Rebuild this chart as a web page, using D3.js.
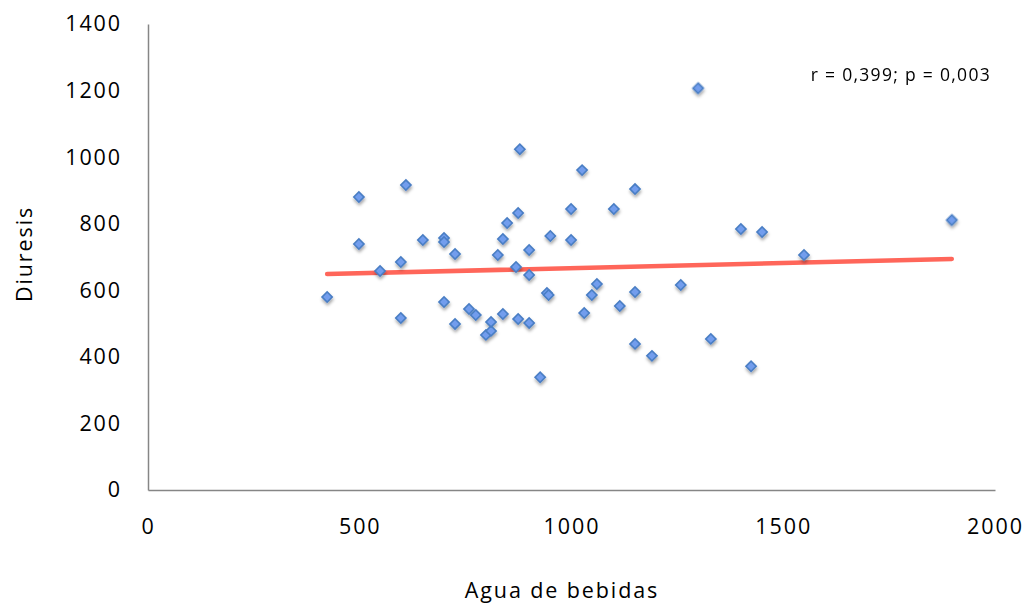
<!DOCTYPE html>
<html>
<head>
<meta charset="utf-8">
<script src="https://cdn.jsdelivr.net/npm/d3@7"></script>
<style>
  html, body { margin: 0; padding: 0; background: #fff; }
  svg { display: block; font-family: "Open Sans", "Noto Sans", sans-serif; }
</style>
</head>
<body>
<svg id="chart" width="1029" height="605"></svg>
<script>
// Water intake from drinks (x) vs. urine output (y)
const aguaBebidas = [
  423, 498, 498, 548, 597, 597, 609, 649, 699, 699,
  699, 725, 725, 758, 774, 798, 810, 810, 826, 838,
  838, 848, 874, 869, 874, 878, 900, 900, 900, 926,
  942, 946, 950, 999, 999, 1025, 1030, 1048, 1060, 1100,
  1114, 1150, 1150, 1150, 1190, 1258, 1329, 1400, 1450, 1424,
  1299, 1549, 1898
];
const diuresis = [
  580, 880, 739, 658, 685, 517, 916, 751, 757, 745,
  565, 709, 499, 544, 526, 466, 478, 505, 706, 754,
  529, 802, 832, 670, 514, 1024, 646, 721, 502, 339,
  592, 586, 763, 751, 844, 961, 532, 586, 619, 844,
  553, 904, 595, 439, 403, 616, 454, 784, 775, 372,
  1207, 706, 811
];

// Linear trend line: y = intercept + slope * x
const trendIntercept = 636;
const trendSlope = 0.0305;

const xTicks = [0, 500, 1000, 1500, 2000];
const yTicks = [0, 200, 400, 600, 800, 1000, 1200, 1400];
const annotation = "r = 0,399; p = 0,003";
const xTitle = "Agua de bebidas";
const yTitle = "Diuresis";

const svg = d3.select("#chart");
const margin = { left: 148, right: 34, top: 24, bottom: 115 };
const width = 1029, height = 605;

const x = d3.scaleLinear().domain([0, 2000]).range([margin.left, width - margin.right]);
const y = d3.scaleLinear().domain([0, 1400]).range([height - margin.bottom, margin.top]);

// drop shadow for markers
const defs = svg.append("defs");
const f = defs.append("filter").attr("id", "shadow")
  .attr("x", "-50%").attr("y", "-50%").attr("width", "200%").attr("height", "200%");
f.append("feDropShadow").attr("dx", 0.5).attr("dy", 2.5).attr("stdDeviation", 1.6)
  .attr("flood-color", "#000").attr("flood-opacity", 0.35);

const labelFont = 21.5;
const labelSpacing = "1.9px";

// axes
const axisColor = "#868686";
const xAxis = d3.axisBottom(x).tickValues(xTicks).tickSize(0).tickPadding(29).tickFormat(d3.format("d"));
const yAxis = d3.axisLeft(y).tickValues(yTicks).tickSize(0).tickPadding(26).tickFormat(d3.format("d"));

const gx = svg.append("g").attr("transform", `translate(0,${y(0)})`).call(xAxis);
const gy = svg.append("g").attr("transform", `translate(${x(0)},0)`).call(yAxis);
[gx, gy].forEach(g => {
  g.select(".domain").attr("stroke", axisColor).attr("stroke-width", 1.5);
  g.selectAll("text").attr("font-size", labelFont).attr("fill", "#000")
    .attr("letter-spacing", labelSpacing)
    .attr("font-family", "'Open Sans', 'Noto Sans', sans-serif");
});
gx.selectAll("text").attr("dy", "0.71em");

// axis titles
svg.append("text").attr("x", 562).attr("y", 598)
  .attr("text-anchor", "middle").attr("font-size", labelFont)
  .attr("letter-spacing", labelSpacing).text(xTitle);
svg.append("text").attr("transform", `translate(32,254)rotate(-90)`)
  .attr("text-anchor", "middle").attr("font-size", labelFont)
  .attr("letter-spacing", labelSpacing).text(yTitle);

// trend line across the data range
const xMin = d3.min(aguaBebidas), xMax = d3.max(aguaBebidas);
svg.append("line")
  .attr("x1", x(xMin)).attr("y1", y(trendIntercept + trendSlope * xMin))
  .attr("x2", x(xMax)).attr("y2", y(trendIntercept + trendSlope * xMax))
  .attr("stroke", "#ff665a").attr("stroke-width", 4.5).attr("stroke-linecap", "round");

// diamond markers
const pts = aguaBebidas.map((v, i) => [v, diuresis[i]]);
svg.append("g").attr("filter", "url(#shadow)")
  .selectAll("path").data(pts).join("path")
  .attr("d", d3.symbol().type(d3.symbolSquare).size(52))
  .attr("transform", d => `translate(${x(d[0])},${y(d[1])})rotate(45)`)
  .attr("fill", "#729ded").attr("stroke", "#4a7ec4").attr("stroke-width", 1.6);

// statistics annotation
svg.append("text").attr("x", 991).attr("y", 81).attr("text-anchor", "end")
  .attr("font-size", 17.5).attr("letter-spacing", "1.3px").text(annotation);
</script>
</body>
</html>
